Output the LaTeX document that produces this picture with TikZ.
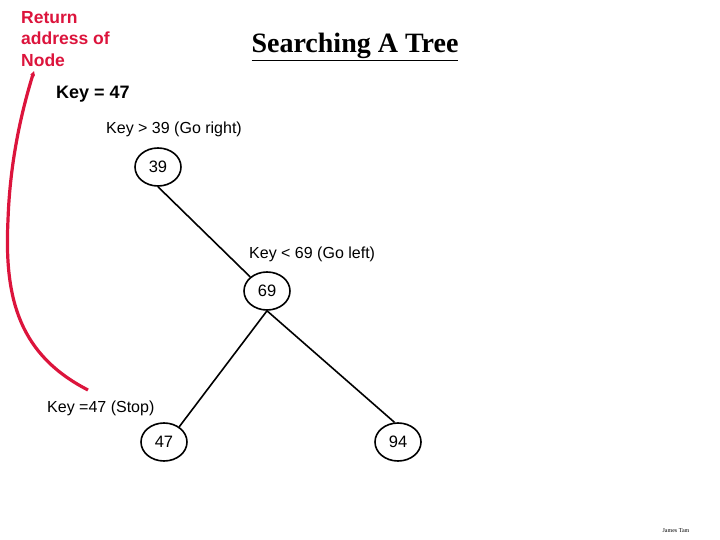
\documentclass[tikz,border=0pt]{standalone}
\usepackage{fontspec}
\setmainfont{Liberation Sans}
\newfontfamily\titlefont{Liberation Serif}
\usetikzlibrary{shapes.geometric,arrows.meta}
\definecolor{retred}{RGB}{220,20,60}
\tikzset{
  treenode/.style={draw, ellipse, line width=1.6pt, minimum width=46pt, minimum height=38pt, inner sep=0pt, font=\fontsize{16.5}{19}\selectfont},
  lbl/.style={anchor=west, inner sep=0pt, font=\fontsize{16}{19}\selectfont},
  edge/.style={line width=1.6pt},
}
\begin{document}
\begin{tikzpicture}[x=1pt,y=-1pt]
\useasboundingbox (0,0) rectangle (720,540);
\node[anchor=center, inner sep=0pt, font=\titlefont\bfseries\fontsize{28}{32}\selectfont] (title) at (355,47) {\underline{Searching A Tree}};
\node[anchor=north west, inner sep=0pt, align=left, text=retred, font=\bfseries\fontsize{17.5}{21.5}\selectfont] (ret) at (21,11) {Return\\address of\\Node};
\node[lbl, font=\bfseries\fontsize{18}{21}\selectfont] (key) at (56,94) {Key = 47};
\node[lbl] (l39) at (106,129) {Key > 39 (Go right)};
\node[lbl] (l69) at (249,254) {Key < 69 (Go left)};
\node[lbl] (l47) at (47,408) {Key =47 (Stop)};
\node[treenode] (n39) at (158,167) {39};
\node[treenode] (n69) at (267,291) {69};
\node[treenode] (n47) at (164,442) {47};
\node[treenode] (n94) at (398,442) {94};
\draw[edge] (n39.south) -- (n69.140);
\draw[edge] (n69.south) -- (n47.45);
\draw[edge] (n69.south) -- (n94.100);
\coordinate (cs) at (88,390);
\coordinate (ce) at (34,71);
\draw[retred, line width=3.2pt, -{Stealth[length=5pt,width=5pt]}] (cs) .. controls (20,355) and (4,300) .. (8,220) .. controls (10,160) and (22,110) .. (ce);
\node[anchor=center, inner sep=0pt, font=\titlefont\fontsize{6}{7}\selectfont] (sig) at (676,531) {James Tam};
\end{tikzpicture}
\end{document}
